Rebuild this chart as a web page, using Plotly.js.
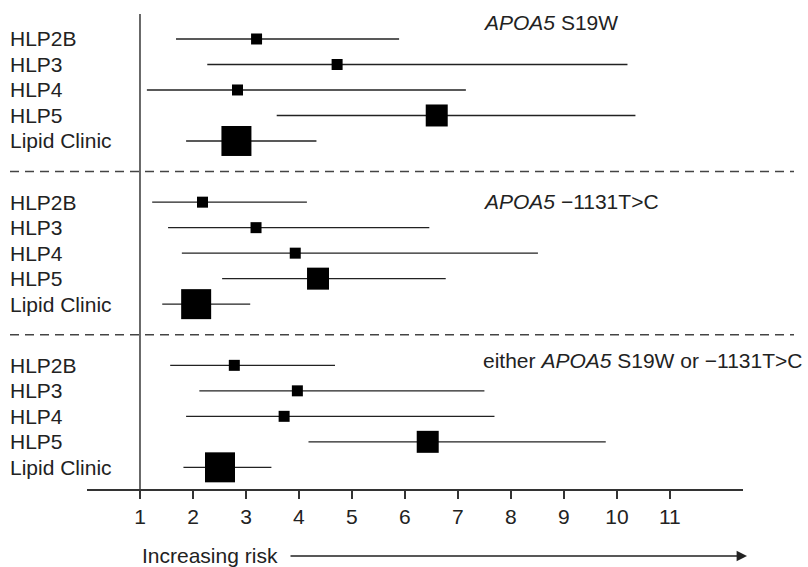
<!DOCTYPE html>
<html>
<head>
<meta charset="utf-8">
<script src="https://cdn.plot.ly/plotly-3.0.1.min.js"></script>
<style>html,body{margin:0;padding:0;background:#fff;}#chart{width:808px;height:567px;}</style>
</head>
<body>
<div id="chart"></div>
<script>
// ---- data ----
const groups = ["HLP2B", "HLP3", "HLP4", "HLP5", "Lipid Clinic"];
const panelTitles = ["<i>APOA5</i> S19W", "<i>APOA5</i> \u22121131T>C", "either <i>APOA5</i> S19W or \u22121131T>C"];
const xTicks = [1, 2, 3, 4, 5, 6, 7, 8, 9, 10, 11];
// odds ratios (point estimate, lower, upper) per panel
const orS19W   = [3.20, 4.72, 2.84, 6.60, 2.82];
const loS19W   = [1.68, 2.27, 1.13, 3.58, 1.87];
const hiS19W   = [5.89, 10.20, 7.15, 10.35, 4.33];
const or1131   = [2.18, 3.19, 3.93, 4.36, 2.06];
const lo1131   = [1.23, 1.53, 1.79, 2.55, 1.42];
const hi1131   = [4.15, 6.46, 8.51, 6.77, 3.08];
const orEither = [2.78, 3.97, 3.72, 6.43, 2.51];
const loEither = [1.57, 2.12, 1.87, 4.18, 1.82];
const hiEither = [4.68, 7.50, 7.69, 9.79, 3.48];
const weightSize = [11, 11, 11, 22, 30];

const panels = [
  {or: orS19W, lo: loS19W, hi: hiS19W},
  {or: or1131, lo: lo1131, hi: hi1131},
  {or: orEither, lo: loEither, hi: hiEither}
];

// ---- layout helpers ----
const FONT = "Liberation Sans, Arial, Helvetica, sans-serif";
const FS = 21;
const TXT = "#222";
const PANEL_STEP = 6.4;
const rowY = (p, r) => p * PANEL_STEP + r;

const traces = panels.map((pd, p) => ({
  type: "scatter",
  mode: "markers",
  x: pd.or,
  y: groups.map((g, r) => rowY(p, r)),
  marker: {symbol: "square", size: weightSize, color: "#000", opacity: 1, line: {width: 0}},
  error_x: {
    type: "data", symmetric: false,
    array: pd.hi.map((h, i) => h - pd.or[i]),
    arrayminus: pd.lo.map((l, i) => pd.or[i] - l),
    width: 0, thickness: 1.4, color: "#222"
  },
  hoverinfo: "skip",
  showlegend: false,
  cliponaxis: false
}));

const L = 87, R = 743, T = 14, B = 489;
const W = R - L, H = B - T;
const px = x => (x - L) / W;
const py = y => (B - y) / H;

const annotations = [];
panels.forEach((pd, p) => {
  groups.forEach((g, r) => {
    annotations.push({
      text: g, xref: "paper", yref: "y", x: px(8), y: rowY(p, r),
      xanchor: "left", yanchor: "middle", showarrow: false,
      font: {family: FONT, size: FS, color: TXT}
    });
  });
});
const titleY = [22.5, 201.5, 360];
panelTitles.forEach((t, p) => {
  annotations.push({
    text: t, xref: "paper", yref: "paper", x: px(481), y: py(titleY[p]),
    xanchor: "left", yanchor: "middle", showarrow: false,
    font: {family: FONT, size: FS, color: TXT}
  });
});
annotations.push({
  text: "Increasing risk", xref: "paper", yref: "paper", x: px(140), y: py(555),
  xanchor: "left", yanchor: "middle", showarrow: false,
  font: {family: FONT, size: FS, color: TXT}
});
annotations.push({
  text: "", xref: "paper", yref: "paper", x: px(747), y: py(556),
  ax: -(747 - 289), ay: 0, showarrow: true,
  arrowhead: 2, arrowsize: 1.6, arrowwidth: 1.3, arrowcolor: "#222"
});

const shapes = [
  {type: "line", xref: "x", yref: "paper", x0: 1, x1: 1, y0: 0, y1: 1,
   line: {color: "#444", width: 1.6}},
];
[0, 1].forEach(p => {
  const yMid = (rowY(p, 4) + rowY(p + 1, 0)) / 2;
  shapes.push({type: "line", xref: "paper", yref: "y", x0: px(10), x1: px(794), y0: yMid, y1: yMid,
    line: {color: "#444", width: 1.4, dash: "9px,6px"}});
});

const layout = {
  width: 808, height: 567,
  margin: {l: L, r: 808 - R, t: T, b: 567 - B, pad: 0},
  paper_bgcolor: "#fff", plot_bgcolor: "#fff",
  showlegend: false,
  font: {family: FONT, size: FS, color: TXT},
  xaxis: {
    range: [0, 12.38], tickvals: xTicks, ticktext: xTicks.map(String),
    ticks: "outside", ticklen: 8, tickwidth: 1.5, tickcolor: "#333",
    showline: true, linecolor: "#333", linewidth: 1.5,
    showgrid: false, zeroline: false,
    tickfont: {family: FONT, size: FS, color: TXT}
  },
  yaxis: {
    range: [17.65, -0.98], showgrid: false, zeroline: false,
    showticklabels: false, ticks: "", showline: false
  },
  shapes: shapes,
  annotations: annotations
};

Plotly.newPlot("chart", traces, layout, {staticPlot: true});
</script>
</body>
</html>
